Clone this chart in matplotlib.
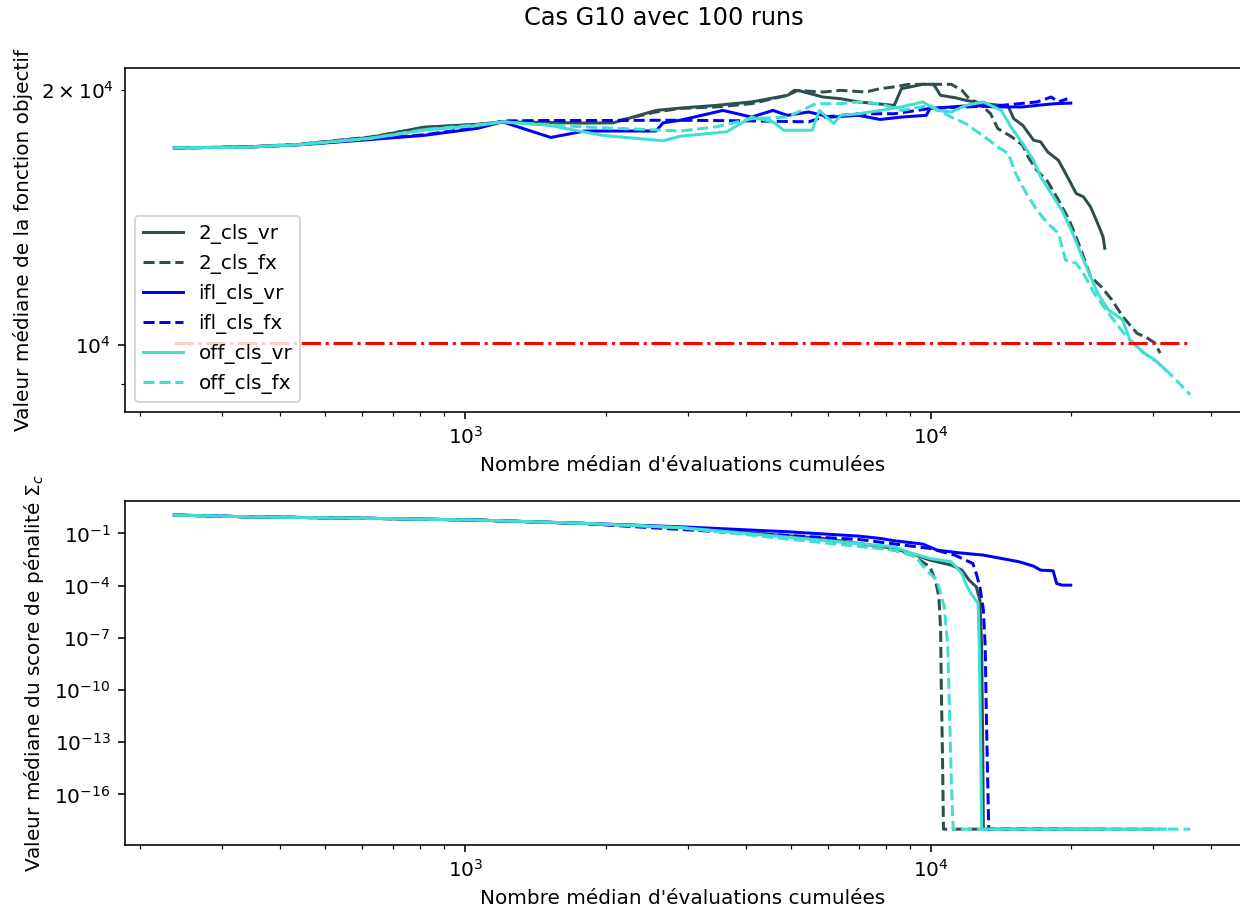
import matplotlib
matplotlib.use("Agg")
import matplotlib.pyplot as plt
import numpy as np

# ---- median objective value vs. median cumulative evaluations ----
x_2vr = [237, 337, 440, 625, 815, 1061, 1202, 1511, 1803, 2077, 2566, 2893,
         3451, 4118, 4912, 5181, 5861, 6402, 6993, 8340, 8641, 9608, 10130,
         10490, 11250, 11870, 12960, 14160, 14670, 15060, 15750, 16610, 17200,
         17820, 18790, 19810, 20510, 21260, 22020, 22810, 23420, 23630]
f_2vr = [17080, 17120, 17240, 17570, 18070, 18210, 18330, 18300, 18270, 18280,
         18910, 19030, 19170, 19350, 19700, 19970, 19610, 19520, 19350, 19170,
         20060, 20300, 20300, 19700, 19580, 19440, 19260, 19170, 19090, 18490,
         18160, 17440, 17360, 16890, 16510, 15650, 15090, 14950, 14550, 13910,
         13420, 13000]

x_2fx = [237, 337, 440, 625, 815, 1061, 1202, 1511, 2077, 2566, 2893, 3451,
         4118, 4912, 5088, 5861, 6402, 7243, 7775, 8340, 8952, 9950, 11060,
         11660, 12080, 12740, 13430, 13920, 14930, 15750, 16170, 16880, 17820,
         18790, 19810, 20880, 22020, 23210, 24470, 25810, 27700, 29210, 30250,
         31070]
f_2fx = [17080, 17120, 17250, 17590, 18050, 18200, 18330, 18380, 18330, 18830,
         19010, 19090, 19260, 19700, 19970, 19880, 19970, 19880, 20060, 20160,
         20300, 20300, 20300, 19970, 19520, 19260, 18740, 18000, 17590, 17200,
         16670, 16070, 15580, 14820, 14040, 13060, 12040, 11710, 11300, 10800,
         10320, 10180, 10050, 9777]

x_ivr = [237, 337, 440, 625, 815, 1061, 1202, 1525, 1803, 2566, 2658, 2893,
         3576, 4118, 4579, 4912, 5462, 6072, 6993, 7775, 8641, 9776, 9950,
         11060, 12300, 13670, 15750, 16880, 18460, 19970]
f_ivr = [17080, 17110, 17220, 17470, 17670, 18010, 18330, 17570, 17880, 17880,
         18280, 18410, 18910, 18570, 18910, 18660, 18830, 18570, 18660, 18450,
         18570, 18660, 19010, 19090, 19170, 19090, 19090, 19170, 19260, 19290]

x_ifx = [237, 337, 440, 625, 815, 1061, 1202, 1511, 2077, 2566, 2893, 4118,
         5462, 5861, 6993, 8340, 9950, 11870, 14160, 16880, 18130, 18790, 19630]
f_ifx = [17080, 17110, 17230, 17500, 17700, 18050, 18380, 18400, 18400, 18410,
         18410, 18380, 18330, 18570, 18740, 18740, 19010, 19090, 19170, 19350,
         19610, 19350, 19520]

x_ovr = [237, 337, 440, 625, 815, 1061, 1202, 1511, 1969, 2658, 2893, 3639,
         4118, 4579, 4828, 5558, 5759, 6180, 6402, 6993, 7775, 8641, 9608,
         10310, 11060, 11870, 12960, 14160, 14930, 15750, 16610, 17200, 18130,
         19110, 20160, 21260, 22020, 22810, 24050, 25810, 26730, 28690, 30250,
         31900]
f_ovr = [17080, 17110, 17230, 17530, 17920, 18150, 18330, 18160, 17670, 17410,
         17630, 17840, 18570, 18330, 17920, 17920, 18910, 18250, 18660, 18740,
         18910, 19090, 19350, 18910, 18830, 19170, 19350, 18910, 18000, 17280,
         16510, 15790, 15090, 14420, 13540, 12590, 12040, 11510, 11000, 10700,
         10140, 9777, 9600, 9345]

x_ofx = [237, 337, 440, 625, 815, 1061, 1202, 1803, 2893, 3451, 4118, 4912,
         5657, 6402, 6993, 7775, 8641, 9950, 11060, 11870, 12300, 13200, 13920,
         14670, 15200, 16030, 16880, 17820, 18790, 19460, 20510, 21260, 22410,
         24050, 26260, 28690, 30790, 33040, 36060]
f_ofx = [17080, 17110, 17230, 17530, 17950, 18180, 18330, 18080, 17880, 18080,
         18490, 18570, 19260, 19260, 19350, 19260, 18910, 19170, 18570, 18250,
         18000, 17510, 17120, 16810, 15930, 15090, 14420, 13910, 13540, 12590,
         12480, 12140, 11510, 10900, 10230, 9777, 9515, 9177, 8730]

seuil = 10050

# ---- median penalty score vs. median cumulative evaluations ----
x_p_2vr = [237, 337, 625, 1061, 1800, 2893, 5861, 8340, 9270, 9950, 11060,
           11660, 12080, 12510, 12740, 12850, 12920, 12960, 23630]
p_2vr = [1.13, 0.90, 0.73, 0.58, 0.376, 0.219, 0.0512, 0.0136, 0.00564,
         0.0029, 0.0015, 7.7e-4, 2.05e-4, 8.5e-5, 1.46e-5, 3.0e-8, 5.4e-14,
         1e-18, 1e-18]

x_p_2fx = [237, 337, 625, 1061, 1800, 2893, 5861, 8340, 9108, 9950, 10220,
           10400, 10490, 10520, 10580, 10640, 31070]
p_2fx = [1.13, 0.90, 0.73, 0.58, 0.376, 0.192, 0.041, 0.0109, 0.00564, 0.0012,
         2.05e-4, 2.26e-5, 2.75e-7, 3.6e-10, 5.4e-14, 1e-18, 1e-18]

x_p_ivr = [237, 337, 625, 1061, 1800, 2893, 4912, 6993, 7775, 8340, 9608,
           10310, 11460, 12960, 14160, 15470, 16610, 17200, 18300, 18620,
           19110, 19970]
p_ivr = [1.13, 0.90, 0.73, 0.58, 0.376, 0.24, 0.124, 0.0697, 0.0512, 0.0376,
         0.0242, 0.0109, 0.00767, 0.00564, 0.00362, 0.00233, 0.00131, 7.7e-4,
         7.06e-4, 1.32e-4, 1.06e-4, 1.06e-4]

x_p_ifx = [237, 337, 625, 1061, 1800, 2893, 6993, 9950, 11250, 11870, 12300,
           12510, 12740, 12960, 13080, 13150, 13240, 13310, 19630]
p_ifx = [1.13, 0.90, 0.73, 0.58, 0.36, 0.168, 0.0448, 0.0136, 0.00564, 0.0029,
         0.00186, 4.95e-4, 8.5e-5, 3.9e-6, 3.0e-8, 4.5e-12, 6.6e-16, 1e-18,
         1e-18]

x_p_ovr = [237, 337, 625, 1061, 1800, 2893, 8340, 9108, 9950, 11060, 11660,
           11870, 12190, 12630, 12700, 12790, 12850, 31900]
p_ovr = [1.13, 0.90, 0.73, 0.58, 0.376, 0.219, 0.017, 0.00703, 0.00362,
         0.00233, 4.95e-4, 1.32e-4, 3.5e-5, 9.3e-6, 3.0e-8, 5.4e-14, 1e-18,
         1e-18]

x_p_ofx = [237, 337, 625, 1061, 1800, 2893, 8340, 9270, 9776, 10310, 10680,
           10870, 10965, 11060, 11160, 36060]
p_ofx = [1.13, 0.90, 0.73, 0.58, 0.376, 0.21, 0.0109, 0.00452, 7.7e-4,
         2.05e-4, 6e-6, 3.0e-8, 4.5e-12, 6.6e-16, 1e-18, 1e-18]

labels = ["2_cls_vr", "2_cls_fx", "ifl_cls_vr", "ifl_cls_fx",
          "off_cls_vr", "off_cls_fx"]
colors = ["darkslategray", "darkslategray", "blue", "blue",
          "turquoise", "turquoise"]
styles = ["-", "--", "-", "--", "-", "--"]

obj_series = [(x_2vr, f_2vr), (x_2fx, f_2fx), (x_ivr, f_ivr),
              (x_ifx, f_ifx), (x_ovr, f_ovr), (x_ofx, f_ofx)]
pen_series = [(x_p_2vr, p_2vr), (x_p_2fx, p_2fx), (x_p_ivr, p_ivr),
              (x_p_ifx, p_ifx), (x_p_ovr, p_ovr), (x_p_ofx, p_ofx)]

dpi = 144
fig = plt.figure(figsize=(1240 / dpi, 915 / dpi), dpi=dpi)
ax1 = fig.add_axes([0.1005, 1 - 412 / 915, 0.9003, (412 - 67.5) / 915])
ax2 = fig.add_axes([0.1005, 1 - 845 / 915, 0.9003, (845 - 501) / 915])

for (x, y), lab, c, ls in zip(obj_series, labels, colors, styles):
    ax1.plot(x, y, color=c, linestyle=ls, label=lab)
x_all = [v for s in obj_series for v in s[0]]
ax1.hlines(seuil, min(x_all), max(x_all), colors="red", linestyles="-.")
ax1.set_xscale("log")
ax1.set_yscale("log")
ax1.set_ylim(8330, 21250)
ax1.set_xlim(10 ** 2.268, 10 ** 4.666)
ax1.set_xlabel("Nombre médian d'évaluations cumulées")
ax1.set_ylabel("Valeur médiane de la fonction objectif")
ax1.legend(loc="lower left")

for (x, y), lab, c, ls in zip(pen_series, labels, colors, styles):
    ax2.plot(x, y, color=c, linestyle=ls, label=lab)
ax2.set_xscale("log")
ax2.set_yscale("log")
ax2.set_xlim(10 ** 2.268, 10 ** 4.666)
ax2.set_ylim(10 ** -18.91, 10 ** 0.86)
ax2.set_yticks(10.0 ** np.arange(-16, 1, 3))
ax2.set_xlabel("Nombre médian d'évaluations cumulées")
ax2.set_ylabel(r"Valeur médiane du score de pénalité $\Sigma_c$")

fig.suptitle("Cas G10 avec 100 runs", x=664 / 1240, y=1 - 18 / 915, va="center")
fig.savefig("out.png", dpi=dpi)
